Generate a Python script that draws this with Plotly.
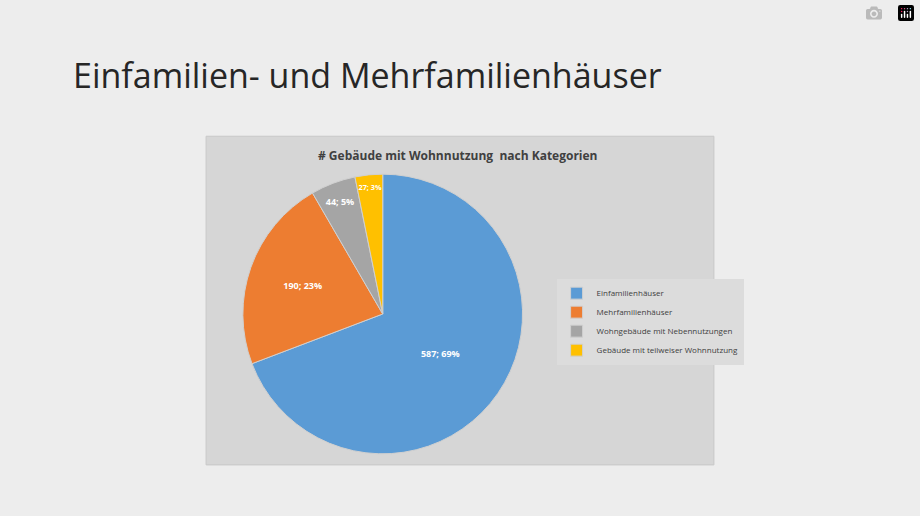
import plotly.graph_objects as go

labels = ["Einfamilienhäuser", "Mehrfamilienhäuser", "Wohngebäude mit Nebennutzungen", "Gebäude mit teilweiser Wohnnutzung"]
values = [587, 190, 44, 27]
pct_labels = ["69%", "23%", "5%", "3%"]
colors = ["#5b9bd5", "#ed7d31", "#a5a5a5", "#ffc000"]

fig = go.Figure(go.Pie(
    labels=labels, values=values, sort=False, direction="clockwise", rotation=0,
    customdata=pct_labels,
    marker=dict(colors=colors, line=dict(color="#d0d0d0", width=1)),
    texttemplate="<b>%{value}; %{customdata}</b>", textposition="inside",
    insidetextorientation="horizontal",
    textfont=dict(color="white", size=9, family="Open Sans"),
    domain=dict(x=[0.264, 0.568], y=[0.12, 0.663]),
))
fig.update_layout(
    width=920, height=516, margin=dict(l=0, r=0, t=0, b=0),
    paper_bgcolor="#ededed",
    font=dict(family="Open Sans"),
    shapes=[dict(type="rect", xref="paper", yref="paper", x0=0.224, x1=0.776,
                 y0=0.099, y1=0.736, fillcolor="#d6d6d6", line=dict(color="#c8c8c8", width=1), layer="below")],
    annotations=[
        dict(text="Einfamilien- und Mehrfamilienhäuser", xref="paper", yref="paper", x=0.077, y=0.855,
             xanchor="left", yanchor="middle", showarrow=False, font=dict(size=34, color="#262626", family="Open Sans")),
        dict(text="<b># Gebäude mit Wohnnutzung  nach Kategorien</b>", xref="paper", yref="paper", x=0.498, y=0.699,
             xanchor="center", yanchor="middle", showarrow=False, font=dict(size=12, color="#404040", family="Open Sans")),
    ],
    legend=dict(x=0.605, y=0.46, xanchor="left", yanchor="top", bgcolor="#dcdcdc",
                font=dict(size=8, color="#404040"), itemwidth=30, tracegroupgap=0),
)
fig.write_html("out.html", post_script="document.body.style.margin='0';document.body.style.overflow='hidden';")
